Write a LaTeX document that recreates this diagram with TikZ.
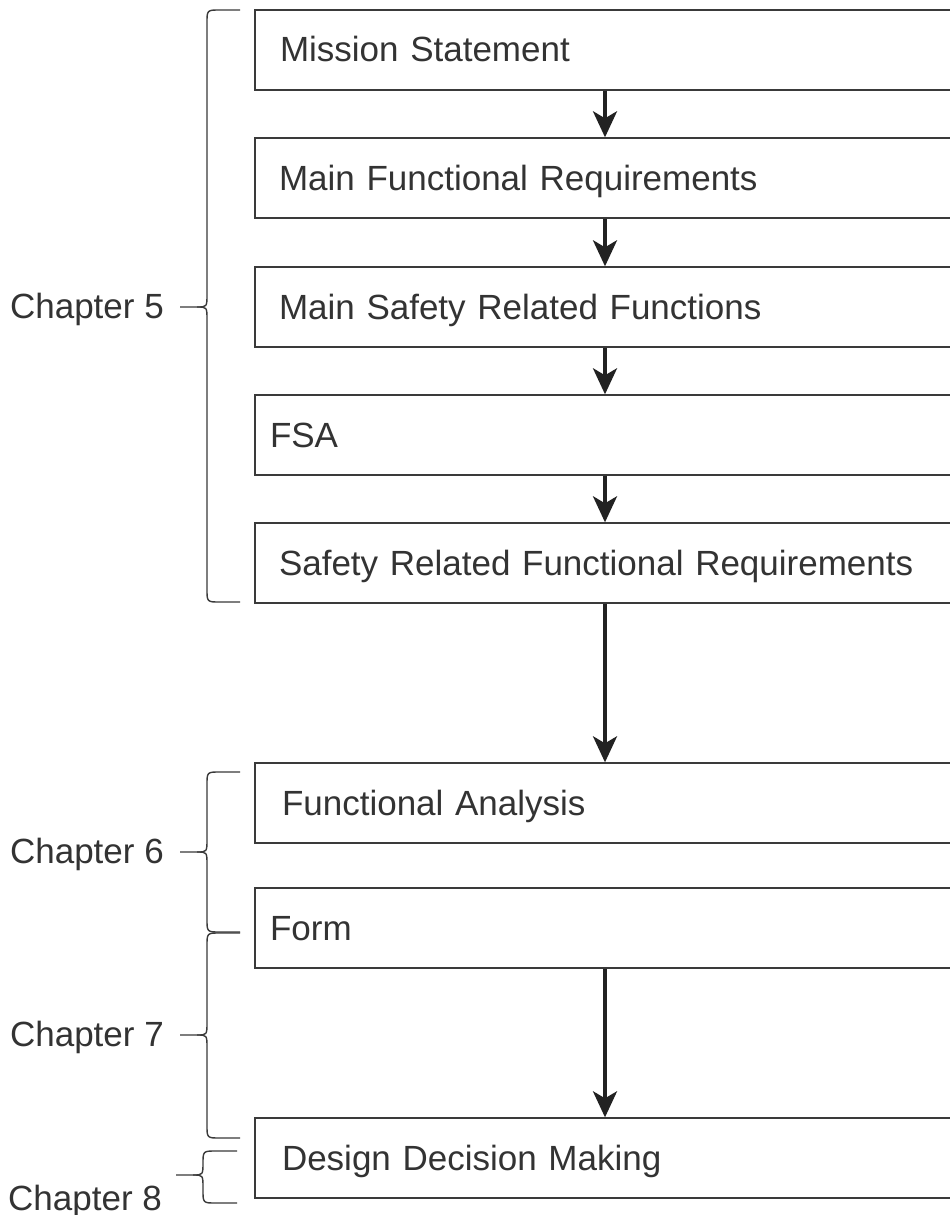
\documentclass[tikz,border=0pt]{standalone}
\usepackage{fontspec}
\setmainfont{Liberation Sans}
\usetikzlibrary{arrows.meta}
\definecolor{boxline}{HTML}{3A3A3A}
\definecolor{txt}{HTML}{333333}
\definecolor{arrc}{HTML}{222222}
\newcommand\chbrace[6]{%
  \draw[bracestyle] (#1,#4) -- ({#2+13},#4) .. controls (#2,#4) .. (#2,{#4+13})
    -- (#2,{#5-13}) .. controls (#2,#5) .. ({#2-10},#5) -- (#3,#5);
  \draw[bracestyle] ({#2-10},#5) .. controls (#2,#5) .. (#2,{#5+13})
    -- (#2,{#6-13}) .. controls (#2,#6) .. ({#2+13},#6) -- (#1,#6);}
\begin{document}
\begin{tikzpicture}[x=1pt,y=-1pt,
  box/.style={draw=boxline,line width=1.4pt,minimum width=700pt,minimum height=80pt,
    text width=#1,align=left,text height=31pt,text depth=7pt,inner ysep=0pt,
    font=\fontsize{35}{42}\selectfont,text=txt},
  box/.default=650pt,
  lab/.style={font=\fontsize{35}{42}\selectfont,text=txt,inner sep=0pt},
  arr/.style={draw=arrc,line width=3.5pt,-{Stealth[length=26pt,width=24pt,inset=7pt]}},
  bracestyle/.style={draw=boxline,line width=1.4pt}]
\useasboundingbox (0,0) rectangle (950,1215);
\clip (0,0) rectangle (950,1215);
\fill[white] (0,0) rectangle (950,1215);
% boxes (top y + 40 = centre)
\node[box] (ms) at (605,50) {Mission Statement};
\node[box=652pt] (mfr) at (605,178) {Main Functional Requirements};
\node[box=652pt] (msrf) at (605,307) {Main Safety Related Functions};
\node[box=670pt] (fsa) at (605,435) {FSA};
\node[box=652pt] (srfr) at (605,563) {Safety Related Functional Requirements};
\node[box=646pt] (fa) at (605,803) {Functional Analysis};
\node[box=670pt] (form) at (605,928) {Form};
\node[box=646pt] (ddm) at (605,1158) {Design Decision Making};
% arrows
\draw[arr] (ms.south) -- (mfr.north);
\draw[arr] (mfr.south) -- (msrf.north);
\draw[arr] (msrf.south) -- (fsa.north);
\draw[arr] (fsa.south) -- (srfr.north);
\draw[arr] (srfr.south) -- (fa.north);
\draw[arr] (form.south) -- (ddm.north);
% braces
\chbrace{240}{207}{180}{10}{307}{602}
\chbrace{240}{207}{180}{772}{852}{932}
\chbrace{240}{207}{180}{933}{1035}{1138}
\chbrace{237}{203}{176}{1151}{1175}{1203}
% labels
\node[lab,anchor=base east] (c5) at (164,318) {Chapter 5};
\node[lab,anchor=base east] (c6) at (164,863) {Chapter 6};
\node[lab,anchor=base east] (c7) at (164,1046) {Chapter 7};
\node[lab,anchor=base west] (c8) at (8,1210) {Chapter 8};
\end{tikzpicture}
\end{document}
